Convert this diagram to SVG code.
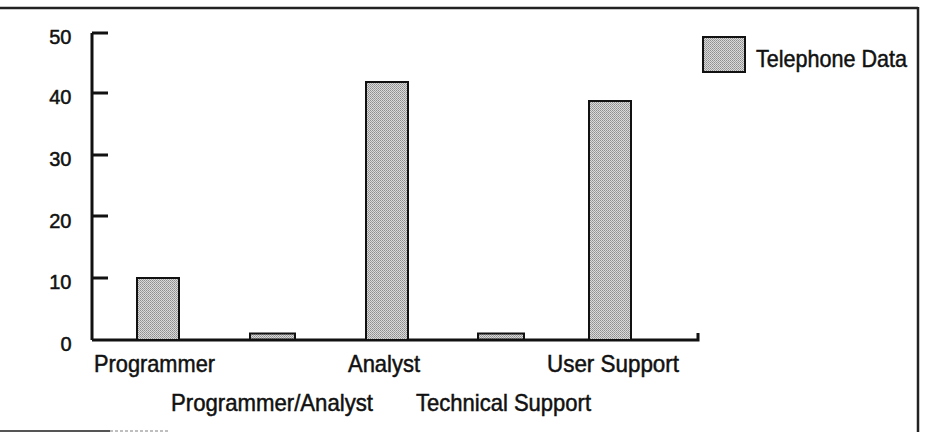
<svg xmlns="http://www.w3.org/2000/svg" width="935" height="432" viewBox="0 0 935 432">
  <defs>
    <pattern id="dither" width="2" height="2" patternUnits="userSpaceOnUse">
      <rect width="2" height="2" fill="#dadada"/>
      <rect width="1" height="1" fill="#8e8e8e"/>
      <rect x="1" y="1" width="1" height="1" fill="#a0a0a0"/>
    </pattern>
    <style>
      .bar { fill: url(#dither); stroke: #111; stroke-width: 2; }
      .axis { fill: none; stroke: #111; stroke-width: 3; }
      .frame { fill: none; stroke: #222; stroke-width: 2.5; }
      .num { font-family: "Liberation Sans", Arial, sans-serif; font-size: 20px; fill: #111; stroke: #111; stroke-width: 0.5; text-anchor: end; }
      .cat { font-family: "Liberation Sans", Arial, sans-serif; font-size: 24px; fill: #111; stroke: #111; stroke-width: 0.5; }
    </style>
  </defs>
  <rect width="935" height="432" fill="#ffffff"/>

  <g id="frame">
    <line class="frame" x1="0" y1="8" x2="918" y2="8"/>
    <line class="frame" x1="918" y1="7" x2="918" y2="432"/>
    <line x1="0" y1="431" x2="110" y2="431" stroke="#555" stroke-width="2"/>
    <line x1="110" y1="431" x2="170" y2="431" stroke="#aaa" stroke-width="1.5" stroke-dasharray="3 2"/>
  </g>

  <g id="y-axis">
    <path class="axis" d="M92 33 V340"/>
    <path class="axis" d="M92 33 H108 M92 93 H108 M92 155 H108 M92 216 H108 M92 278 H108"/>
    <text class="num" x="71.5" y="44">50</text>
    <text class="num" x="71.5" y="104">40</text>
    <text class="num" x="71.5" y="166">30</text>
    <text class="num" x="71.5" y="228">20</text>
    <text class="num" x="71.5" y="289">10</text>
    <text class="num" x="71.5" y="351">0</text>
  </g>

  <g id="x-axis">
    <path class="axis" d="M92 340 H698 V333"/>
  </g>

  <g id="bar-programmer">
    <rect class="bar" x="137" y="278" width="42" height="62"/>
    <text class="cat" x="94" y="372" textLength="121" lengthAdjust="spacingAndGlyphs">Programmer</text>
  </g>
  <g id="bar-programmer-analyst">
    <rect class="bar" x="250" y="333.5" width="45" height="6"/>
    <text class="cat" x="171" y="410.5" textLength="202" lengthAdjust="spacingAndGlyphs">Programmer/Analyst</text>
  </g>
  <g id="bar-analyst">
    <rect class="bar" x="366" y="82" width="42" height="258"/>
    <text class="cat" x="348" y="372" textLength="72" lengthAdjust="spacingAndGlyphs">Analyst</text>
  </g>
  <g id="bar-technical-support">
    <rect class="bar" x="478" y="333.5" width="46" height="6"/>
    <text class="cat" x="416" y="410.5" textLength="175" lengthAdjust="spacingAndGlyphs">Technical Support</text>
  </g>
  <g id="bar-user-support">
    <rect class="bar" x="589" y="101" width="42" height="239"/>
    <text class="cat" x="547" y="372" textLength="132" lengthAdjust="spacingAndGlyphs">User Support</text>
  </g>

  <g id="legend">
    <rect class="bar" x="703" y="37" width="42" height="35"/>
    <text class="cat" x="756" y="66.5" textLength="151" lengthAdjust="spacingAndGlyphs">Telephone Data</text>
  </g>

  <g id="connectors"/>
</svg>
